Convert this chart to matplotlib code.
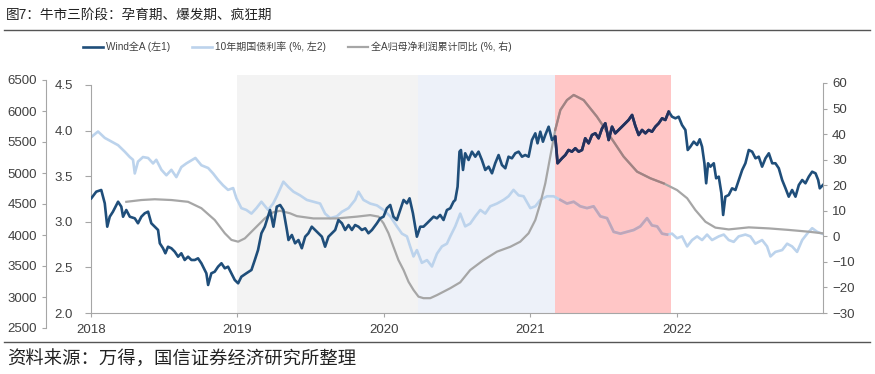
import matplotlib
matplotlib.use("Agg")
import matplotlib.pyplot as plt
from matplotlib.lines import Line2D

plt.rcParams['font.family'] = ['Liberation Sans', 'Noto Sans CJK SC']

# time in decimal years
wind_t = [2018.002, 2018.036, 2018.070, 2018.094, 2018.111, 2018.128, 2018.150, 2018.185, 2018.207, 2018.219,
          2018.241, 2018.265, 2018.299, 2018.321, 2018.344, 2018.367, 2018.390, 2018.412, 2018.435, 2018.458,
          2018.470, 2018.492, 2018.508, 2018.526, 2018.549, 2018.572, 2018.595, 2018.617, 2018.640, 2018.663,
          2018.686, 2018.709, 2018.731, 2018.754, 2018.788, 2018.800, 2018.822, 2018.845, 2018.868, 2018.891,
          2018.914, 2018.936, 2018.959, 2018.982, 2019.005, 2019.027, 2019.061, 2019.096, 2019.119, 2019.141,
          2019.164, 2019.187, 2019.223, 2019.246, 2019.269, 2019.292, 2019.314, 2019.338, 2019.349, 2019.372,
          2019.394, 2019.417, 2019.440, 2019.463, 2019.485, 2019.508, 2019.531, 2019.554, 2019.577, 2019.599,
          2019.622, 2019.645, 2019.668, 2019.690, 2019.714, 2019.736, 2019.759, 2019.782, 2019.804, 2019.827,
          2019.850, 2019.873, 2019.895, 2019.919, 2019.953, 2019.975, 2019.998, 2020.021, 2020.044, 2020.066,
          2020.089, 2020.112, 2020.135, 2020.158, 2020.176, 2020.199, 2020.226, 2020.249, 2020.271, 2020.295,
          2020.317, 2020.340, 2020.363, 2020.385, 2020.408, 2020.431, 2020.454, 2020.476, 2020.488, 2020.504,
          2020.517, 2020.527, 2020.541, 2020.556, 2020.579, 2020.602, 2020.625, 2020.647, 2020.670, 2020.693,
          2020.716, 2020.739, 2020.761, 2020.784, 2020.807, 2020.830, 2020.852, 2020.875, 2020.898, 2020.921,
          2020.944, 2020.966, 2020.989, 2021.012, 2021.035, 2021.050, 2021.069, 2021.087, 2021.103, 2021.126,
          2021.149, 2021.171, 2021.187, 2021.217, 2021.240, 2021.262, 2021.285, 2021.308, 2021.331, 2021.354,
          2021.376, 2021.399, 2021.422, 2021.445, 2021.467, 2021.491, 2021.513, 2021.536, 2021.559, 2021.581,
          2021.604, 2021.627, 2021.650, 2021.672, 2021.696, 2021.718, 2021.741, 2021.764, 2021.787, 2021.809,
          2021.832, 2021.855, 2021.878, 2021.901, 2021.923, 2021.946, 2021.969, 2021.992, 2022.014, 2022.037,
          2022.060, 2022.076, 2022.094, 2022.117, 2022.140, 2022.158, 2022.174, 2022.190, 2022.202, 2022.215,
          2022.231, 2022.254, 2022.270, 2022.288, 2022.306, 2022.318, 2022.333, 2022.356, 2022.379, 2022.402,
          2022.425, 2022.448, 2022.470, 2022.493, 2022.516, 2022.539, 2022.561, 2022.584, 2022.607, 2022.630,
          2022.653, 2022.675, 2022.698, 2022.721, 2022.744, 2022.766, 2022.789, 2022.812, 2022.835, 2022.858,
          2022.880, 2022.903, 2022.926, 2022.949, 2022.967, 2022.978, 2023.000]
wind_v = [4592, 4699, 4726, 4511, 4134, 4295, 4376, 4537, 4457, 4295,
          4403, 4295, 4269, 4189, 4295, 4350, 4376, 4189, 4134, 4081,
          3866, 3786, 3705, 3811, 3786, 3731, 3650, 3705, 3597, 3650,
          3597, 3597, 3624, 3544, 3382, 3194, 3382, 3408, 3489, 3544,
          3463, 3489, 3382, 3274, 3221, 3327, 3382, 3436, 3597, 3758,
          4028, 4134, 4403, 4134, 4457, 4484, 4403, 4081, 3919, 4000,
          3866, 3919, 3786, 3973, 4028, 4134, 4081, 4028, 3973, 3811,
          3973, 4028, 4081, 4242, 4189, 4081, 4161, 4081, 4161, 4134,
          4081, 4108, 4028, 4081, 4189, 4269, 4295, 4431, 4484, 4295,
          4242, 4403, 4565, 4511, 4592, 4350, 3973, 4134, 4134, 4189,
          4242, 4295, 4269, 4323, 4242, 4403, 4431, 4537, 4565, 4779,
          5344, 5371, 5049, 5318, 5210, 5344, 5263, 5344, 5210, 5049,
          5102, 4995, 5157, 5290, 5129, 5076, 5263, 5237, 5318, 5344,
          5263, 5290, 5263, 5532, 5640, 5479, 5666, 5505, 5613, 5747,
          5532, 5586, 5157, 5237, 5290, 5371, 5344, 5399, 5344, 5371,
          5560, 5479, 5613, 5640, 5560, 5721, 5802, 5532, 5747, 5640,
          5694, 5747, 5802, 5855, 5936, 5760, 5613, 5694, 5640, 5694,
          5666, 5747, 5802, 5882, 5855, 5989, 5908, 5882, 5908, 5774,
          5694, 5371, 5424, 5505, 5452, 5544, 5424, 5157, 4834, 5157,
          5102, 5157, 4915, 4941, 4673, 4323, 4618, 4645, 4753, 4726,
          4887, 5049, 5157, 5371, 5344, 5237, 5263, 5102, 5237, 5318,
          5157, 5157, 5076, 4887, 4753, 4618, 4726, 4618, 4807, 4887,
          4834, 4941, 5021, 4995, 4887, 4753, 4807]

bond_t = [2018.002, 2018.048, 2018.094, 2018.139, 2018.185, 2018.230, 2018.265, 2018.287, 2018.299, 2018.321,
          2018.355, 2018.390, 2018.424, 2018.446, 2018.481, 2018.515, 2018.549, 2018.583, 2018.617, 2018.651,
          2018.713, 2018.754, 2018.800, 2018.834, 2018.868, 2018.902, 2018.936, 2018.971, 2018.993, 2019.027,
          2019.061, 2019.096, 2019.130, 2019.164, 2019.210, 2019.244, 2019.269, 2019.314, 2019.349, 2019.383,
          2019.428, 2019.474, 2019.519, 2019.565, 2019.599, 2019.634, 2019.679, 2019.714, 2019.759, 2019.804,
          2019.827, 2019.861, 2019.907, 2019.953, 2019.998, 2020.044, 2020.089, 2020.124, 2020.158, 2020.180,
          2020.203, 2020.226, 2020.260, 2020.295, 2020.329, 2020.363, 2020.397, 2020.431, 2020.454, 2020.488,
          2020.522, 2020.556, 2020.590, 2020.625, 2020.659, 2020.693, 2020.727, 2020.773, 2020.818, 2020.852,
          2020.886, 2020.921, 2020.955, 2021.001, 2021.035, 2021.069, 2021.115, 2021.160, 2021.206, 2021.251,
          2021.297, 2021.342, 2021.388, 2021.433, 2021.479, 2021.525, 2021.570, 2021.616, 2021.661, 2021.707,
          2021.752, 2021.798, 2021.832, 2021.867, 2021.901, 2021.935, 2021.969, 2022.003, 2022.037, 2022.072,
          2022.106, 2022.140, 2022.174, 2022.208, 2022.242, 2022.288, 2022.322, 2022.356, 2022.390, 2022.424,
          2022.470, 2022.504, 2022.538, 2022.584, 2022.618, 2022.641, 2022.675, 2022.721, 2022.755, 2022.789,
          2022.823, 2022.858, 2022.892, 2022.926, 2022.960, 2022.994]
bond_v = [3.93, 3.99, 3.92, 3.88, 3.84, 3.77, 3.71, 3.68, 3.53, 3.66,
          3.71, 3.70, 3.64, 3.68, 3.57, 3.51, 3.57, 3.49, 3.60, 3.64,
          3.70, 3.62, 3.59, 3.53, 3.46, 3.40, 3.35, 3.37, 3.26, 3.15,
          3.13, 3.09, 3.15, 3.22, 3.13, 3.20, 3.28, 3.44, 3.38, 3.33,
          3.29, 3.24, 3.22, 3.20, 3.09, 3.04, 3.06, 3.11, 3.15, 3.24,
          3.33, 3.24, 3.20, 3.18, 3.13, 3.06, 2.95, 2.87, 2.84, 2.73,
          2.62, 2.69, 2.55, 2.58, 2.51, 2.65, 2.73, 2.76, 2.84, 2.95,
          3.09, 2.95, 2.98, 3.06, 3.13, 3.09, 3.17, 3.20, 3.24, 3.28,
          3.35, 3.29, 3.28, 3.15, 3.17, 3.24, 3.28, 3.28, 3.24, 3.20,
          3.22, 3.17, 3.15, 3.17, 3.06, 3.04, 2.89, 2.87, 2.89, 2.91,
          2.95, 3.04, 2.96, 2.95, 2.87, 2.86, 2.87, 2.82, 2.84, 2.73,
          2.80, 2.84, 2.80, 2.86, 2.80, 2.84, 2.86, 2.80, 2.78, 2.84,
          2.86, 2.84, 2.76, 2.80, 2.73, 2.62, 2.67, 2.69, 2.76, 2.73,
          2.67, 2.80, 2.87, 2.93, 2.89, 2.87]

profit_t = [2018.241, 2018.344, 2018.435, 2018.549, 2018.663, 2018.754, 2018.845, 2018.914, 2018.959, 2019.005,
            2019.051, 2019.119, 2019.187, 2019.244, 2019.292, 2019.360, 2019.406, 2019.519, 2019.679, 2019.816,
            2019.907, 2019.964, 2019.998, 2020.032, 2020.066, 2020.100, 2020.135, 2020.169, 2020.203, 2020.237,
            2020.271, 2020.317, 2020.363, 2020.454, 2020.522, 2020.590, 2020.681, 2020.773, 2020.864, 2020.932,
            2020.989, 2021.035, 2021.069, 2021.103, 2021.137, 2021.171, 2021.206, 2021.251, 2021.297, 2021.365,
            2021.456, 2021.547, 2021.638, 2021.730, 2021.821, 2021.912, 2022.003, 2022.072, 2022.128, 2022.197,
            2022.265, 2022.356, 2022.493, 2022.630, 2022.766, 2022.903, 2022.994]
profit_v = [13.5, 14.2, 14.5, 14.2, 13.5, 11.0, 6.4, 1.2, -1.4, -2.1,
            -0.8, 3.1, 7.0, 9.4, 10.0, 9.0, 7.9, 7.0, 7.0, 7.7,
            8.3, 7.7, 5.1, 1.2, -4.1, -9.3, -13.2, -17.8, -21.0, -23.6,
            -24.2, -24.2, -23.0, -20.3, -18.0, -13.2, -9.3, -6.0, -4.1, -2.1,
            1.2, 6.4, 12.9, 20.7, 31.2, 41.6, 49.4, 53.3, 55.3, 53.3,
            46.8, 39.0, 31.2, 25.3, 22.7, 20.7, 18.1, 14.9, 10.3, 5.7,
            3.4, 2.7, 3.5, 3.1, 2.5, 1.8, 1.2]

# stage shading: 孕育期, 爆发期, 疯狂期
stage_start = [2019.0, 2020.235, 2021.17]
stage_end = [2020.235, 2021.17, 2021.965]
stage_color = ['#F3F3F3', '#EDF1F9', '#FFC6C6']

years = [2018, 2019, 2020, 2021, 2022]

title = '图7：牛市三阶段：孕育期、爆发期、疯狂期'
source = '资料来源：万得，国信证券经济研究所整理'
labels = ['Wind全A (左1)', '10年期国债利率 (%, 左2)', '全A归母净利润累计同比 (%, 右)']

c_wind = '#1F4E7A'
c_bond = '#BCD3EC'
c_prof = '#A6A6A6'
c_axis = '#A6A6A6'
c_text = '#404040'
# how the lines look under the pink (疯狂期) band
c_wind_pink = '#24305C'
c_bond_pink = '#C0A5B8'
c_prof_pink = '#A38282'

W, H = 875, 374
fig = plt.figure(figsize=(W / 100, H / 100), dpi=100)

left = 91 / W
width = (823 - 91) / W
ax = fig.add_axes([left, (H - 313) / H, width, (313 - 75) / H])
ax.set_zorder(1)
ax_r = ax.twinx()
ax_r.set_zorder(2)
ax_w = fig.add_axes([left, (H - 328) / H, width, (328 - 80) / H])
ax_w.set_zorder(3)

for s0, s1, c in zip(stage_start, stage_end, stage_color):
    ax.axvspan(s0, s1, color=c, lw=0, zorder=0)

l_bond, = ax.plot(bond_t, bond_v, color=c_bond, lw=1.9, zorder=2)
l_prof, = ax_r.plot(profit_t, profit_v, color=c_prof, lw=1.6)
l_wind, = ax_w.plot(wind_t, wind_v, color=c_wind, lw=1.9)


def tint(axis, t, v, color, lw):
    # redraw the part of a line that lies inside the pink band
    p0, p1 = stage_start[2], stage_end[2]
    seg = [(a, b) for a, b in zip(t, v) if p0 <= a <= p1]
    axis.plot([s[0] for s in seg], [s[1] for s in seg], color=color, lw=lw, zorder=3)


tint(ax, bond_t, bond_v, c_bond_pink, 1.9)
tint(ax_r, profit_t, profit_v, c_prof_pink, 1.6)
tint(ax_w, wind_t, wind_v, c_wind_pink, 1.9)

xl = (2018.0, 2023.0)
for a in (ax, ax_r, ax_w):
    a.set_xlim(*xl)
    a.patch.set_visible(False)
    for sp in a.spines.values():
        sp.set_visible(False)
        sp.set_color(c_axis)

# bond axis (left 2)
ax.set_ylim(2.0, 2.0 + 238 / 91.2)
ax.spines['left'].set_visible(True)
ax.spines['left'].set_bounds(2.0, 4.5)
ax.spines['bottom'].set_visible(True)
ax.set_yticks([2.0, 2.5, 3.0, 3.5, 4.0, 4.5])
ax.set_yticklabels(['%.1f' % v for v in [2.0, 2.5, 3.0, 3.5, 4.0, 4.5]])
ax.tick_params(axis='y', length=4, color=c_axis, labelsize=9.5, labelcolor=c_text, pad=9)
ax.set_xticks(years)
ax.set_xticklabels([str(y) for y in years])
ax.tick_params(axis='x', length=3, color=c_axis, labelsize=9.5, labelcolor=c_text, pad=5)

# profit axis (right)
ax_r.set_ylim(-30, -30 + 238 / 2.556)
ax_r.spines['right'].set_visible(True)
ax_r.spines['right'].set_bounds(-30, 60)
ax_r.set_yticks(range(-30, 61, 10))
ax_r.tick_params(axis='y', length=3, color=c_axis, labelsize=9.5, labelcolor=c_text)

# wind axis (left 1)
ax_w.set_ylim(2500, 6500)
ax_w.spines['left'].set_visible(True)
ax_w.spines['left'].set_position(('outward', 45 * 0.72))
ax_w.set_yticks(range(2500, 6501, 500))
ax_w.tick_params(axis='y', length=3, color=c_axis, labelsize=9.5, labelcolor=c_text)
ax_w.set_xticks([])

fig.legend([l_wind, l_bond, l_prof], labels, loc='center left',
           bbox_to_anchor=(0.087, 1 - 47 / H), ncol=3, frameon=False,
           fontsize=7.2, handlelength=2.0, handletextpad=0.3, columnspacing=2.2,
           labelcolor=c_text, borderpad=0.2)

fig.text(6 / W, 1 - 15 / H, title, fontsize=9.8, color='#222222', va='center', ha='left')
fig.text(7 / W, 1 - 360 / H, source, fontsize=13.2, color='#222222', va='center', ha='left')
fig.add_artist(Line2D([4 / W, 870 / W], [1 - 30 / H] * 2, color='#555555', lw=1))
fig.add_artist(Line2D([4 / W, 870 / W], [1 - 342 / H] * 2, color='#555555', lw=1))

fig.savefig('out.png', dpi=100)
